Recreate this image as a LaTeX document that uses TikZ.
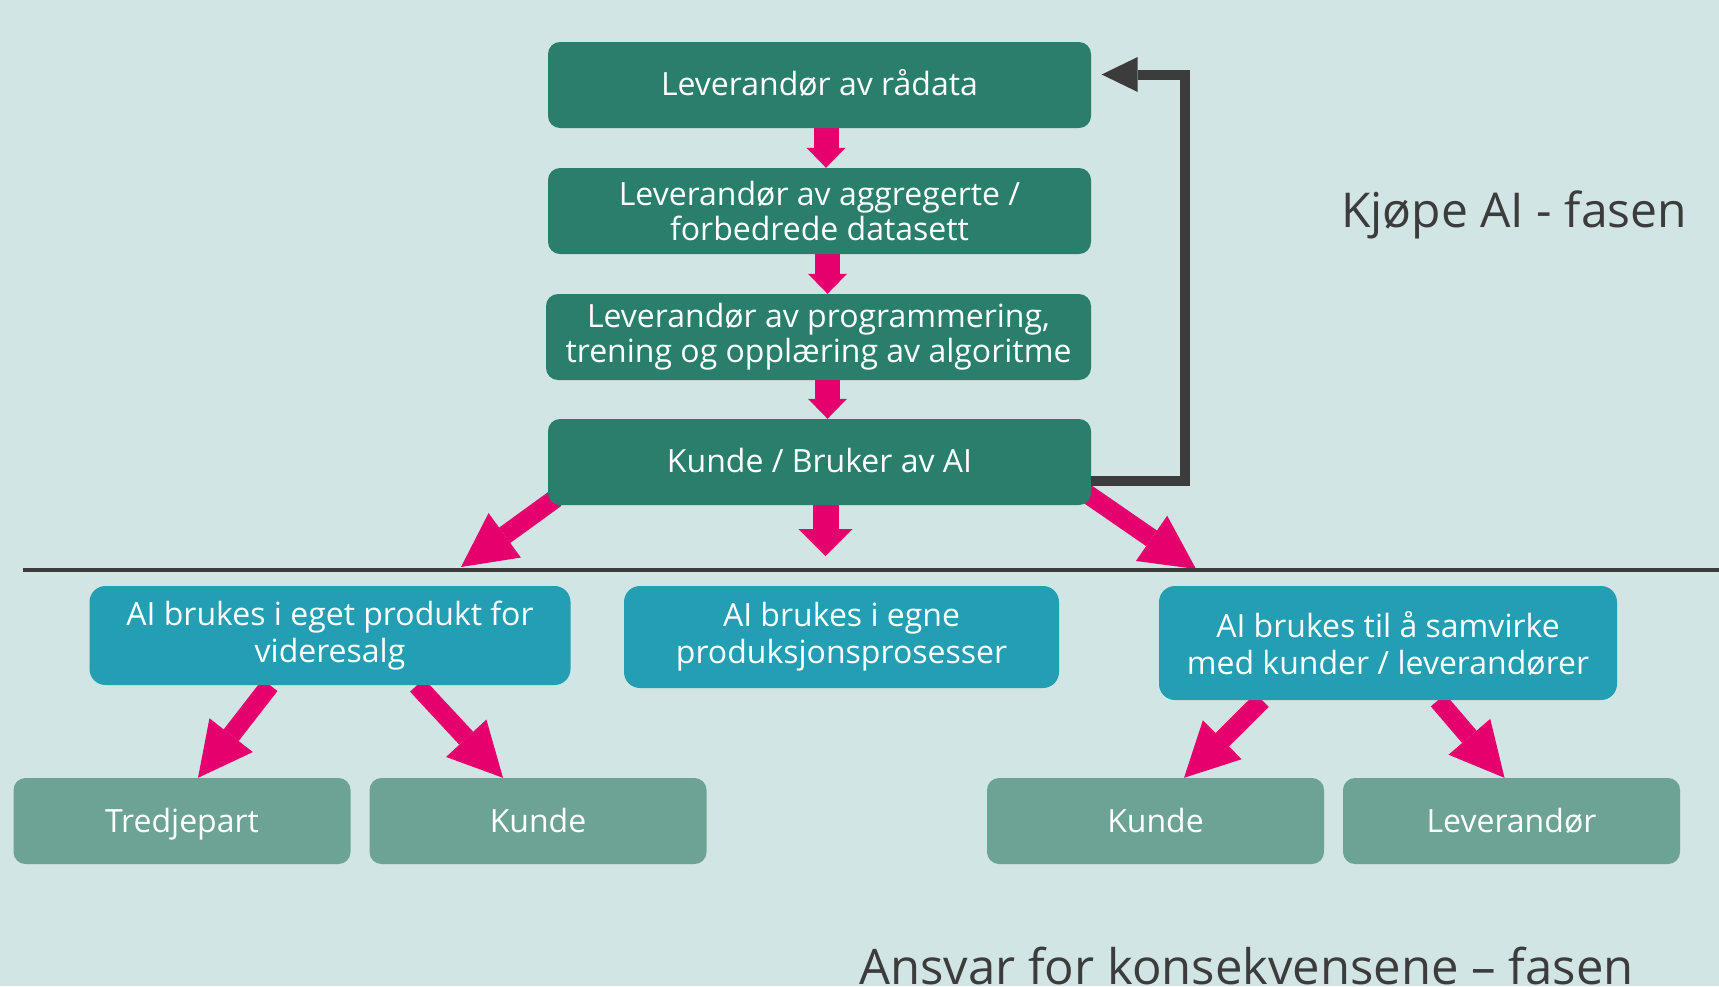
\documentclass[tikz,border=0pt]{standalone}
\usepackage{fontspec}
\setmainfont{Open Sans}
\usetikzlibrary{arrows.meta}
\usetikzlibrary{backgrounds}
\definecolor{bgmint}{HTML}{D1E5E4}
\definecolor{darkgreen}{HTML}{2A7F6C}
\definecolor{tealblue}{HTML}{249EB3}
\definecolor{sagegreen}{HTML}{6CA394}
\definecolor{hotpink}{HTML}{E6006E}
\definecolor{charcoal}{HTML}{3C3C3C}
\tikzset{
  greenbox/.style={shape=rectangle, rounded corners=12pt, fill=darkgreen, text=white, inner sep=0pt, align=center, minimum width=543pt, minimum height=86pt, font=\fontsize{32}{35}\selectfont},
  oneline/.style={text height=20pt, text depth=0pt},
  bluebox/.style={shape=rectangle, rounded corners=16pt, fill=tealblue, text=white, inner sep=0pt, align=center, minimum width=481pt, minimum height=99pt, font=\fontsize{32}{37}\selectfont},
  greybox/.style={shape=rectangle, rounded corners=12pt, fill=sagegreen, text=white, inner sep=0pt, align=center, minimum width=337pt, minimum height=86pt, text height=22pt, text depth=0pt, font=\fontsize{32}{38}\selectfont},
  pinkstep/.style={draw=hotpink, line width=25pt, -{Triangle[length=20pt, width=39pt, line width=0pt]}},
  pinkdown/.style={draw=hotpink, line width=26pt, -{Triangle[length=27pt, width=54pt, line width=0pt]}},
  pinkdiag/.style={draw=hotpink, line width=19pt, -{Triangle[length=54pt, width=55pt, line width=0pt]}},
  loopback/.style={draw=charcoal, line width=10pt, -{Triangle[length=36pt, width=35pt, line width=0pt]}},
  phase/.style={text=charcoal, inner sep=0pt}
}
\begin{document}
\begin{tikzpicture}[x=1pt,y=-1pt]
        \useasboundingbox (0,0) rectangle (1719,986);
        \clip (0,0) rectangle (1719,986);
        % kjope chain
        \node[greenbox, oneline] (raadata) at (819.5,85) {Leverandør av rådata};
        \node[greenbox] (aggreg) at (819.5,211) {Leverandør av aggregerte /\\ forbedrede datasett};
        \node[greenbox, minimum width=545pt] (program) at (818.5,337) {Leverandør av programmering,\\ trening og opplæring av algoritme};
        \node[greenbox, oneline] (bruker) at (819.5,462) {Kunde / Bruker av AI};

        % use of AI
        \node[bluebox] (eget) at (330,635.5) {AI brukes i eget produkt for\\ videresalg};
        \node[bluebox, minimum width=435pt, minimum height=102pt] (egne) at (841.5,637) {AI brukes i egne\\ produksjonsprosesser};
        \node[bluebox, minimum width=458pt, minimum height=114pt] (samvirke) at (1388,643) {AI brukes til å samvirke\\ med kunder / leverandører};

        % responsible
        \node[greybox] (tredjepart) at (182,821) {Tredjepart};
        \node[greybox] (kundeA) at (538,821) {Kunde};
        \node[greybox] (kundeB) at (1155.5,821) {Kunde};
        \node[greybox] (leverandor) at (1511.5,821) {Leverandør};

        % text
        \node[phase, font=\fontsize{48}{58}\selectfont, anchor=base west] (kjope) at (1341,227) {Kjøpe AI - fasen};
        \node[phase, font=\fontsize{49}{58}\selectfont, anchor=base] (ansvar) at (1246.5,984) {Ansvar for konsekvensene – fasen};

        % divider
        \draw[charcoal, line width=3.5pt] (23,570) -- (1719,570);

        % feedback
        \draw[loopback] ([yshift=-19pt]bruker.east) -- ++(94,0) |- ([xshift=10.5pt,yshift=10.5pt]raadata.east);

        \coordinate (downtip) at (825.5,556);
        \coordinate (lefttip) at (461,567);
        \coordinate (righttip) at (1196,569);

        \begin{scope}[on background layer]
        \fill[bgmint] (0,0) rectangle (1719,986);
        % row1
        \draw[pinkstep] ([xshift=6.5pt]raadata.south) -- ([xshift=6.5pt]aggreg.north);
        \draw[pinkstep] ([xshift=8pt]aggreg.south) -- ([xshift=8pt]aggreg.south |- program.north);
        \draw[pinkstep] ([xshift=8pt]program.south -| bruker.south) -- ([xshift=8pt]bruker.north);
        % row2
        \draw[pinkdown] ([xshift=6pt]bruker.south) -- (downtip);
        \draw[pinkdiag] ([xshift=8pt,yshift=7pt]bruker.south west) -- (lefttip);
        \draw[pinkdiag] ([xshift=-5pt,yshift=12pt]bruker.south east) -- (righttip);
        % row3
        \draw[pinkdiag] ([xshift=-60pt]eget.south) -- ([xshift=16pt]tredjepart.north);
        \draw[pinkdiag] ([xshift=87pt]eget.south) -- ([xshift=-35pt]kundeA.north);
        \draw[pinkdiag] ([xshift=-126pt]samvirke.south) -- ([xshift=28.5pt]kundeB.north);
        \draw[pinkdiag] ([xshift=50pt]samvirke.south) -- ([xshift=-7pt]leverandor.north);
        \end{scope}
    \end{tikzpicture}
\end{document}
